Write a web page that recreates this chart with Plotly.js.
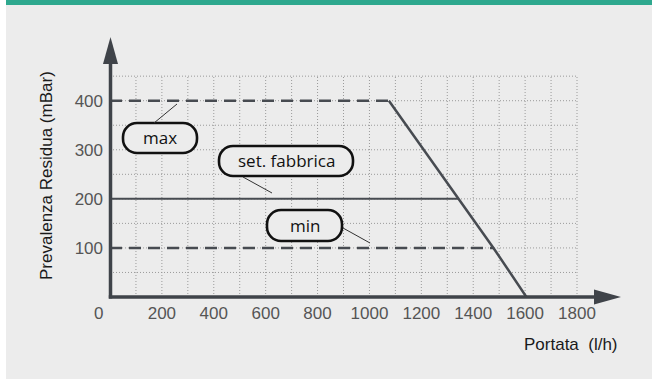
<!DOCTYPE html>
<html>
<head>
<meta charset="utf-8">
<script src="https://cdn.plot.ly/plotly-3.0.1.min.js"></script>
<style>html,body{margin:0;padding:0;background:#fff;}#chart{width:652px;height:379px;}</style>
</head>
<body>
<div id="chart"></div>
<script>
// ---- data ----
const flowMax = [0, 1075];
const presMax = [400, 400];
const flowSet = [0, 1345];
const presSet = [200, 200];
const flowMin = [0, 1478];
const presMin = [100, 100];
const flowCurve = [1075, 1345, 1478, 1605];
const presCurve = [400, 200, 100, 0];
const xTicks = [200, 400, 600, 800, 1000, 1200, 1400, 1600, 1800];
const yTicks = [100, 200, 300, 400];
const labelMax = "max";
const labelSet = "set. fabbrica";
const labelMin = "min";
const xTitle = "Portata  (l/h)";
const yTitle = "Prevalenza Residua (mBar)";

// ---- layout constants ----
const W = 652, H = 379, L = 110, R = 27, T = 35, B = 82;
const PW = W - L - R, PH = H - T - B;
const XMAX = 1985, YMAX = 533.9;
const PX = px => (px - L) / PW;
const PY = py => (T + PH - py) / PH;

const axisCol = '#3f4349';
const lineCol = '#474b51';
const gridCol = '#9a9a9a';

const shapes = [];
// background pieces
shapes.push({type:'rect', xref:'paper', yref:'paper', x0:-1, x1:PX(6), y0:-1, y1:2, fillcolor:'#ffffff', line:{width:0}, layer:'below'});
shapes.push({type:'rect', xref:'paper', yref:'paper', x0:PX(6), x1:2, y0:PY(5), y1:2, fillcolor:'#2ea88e', line:{width:0}, layer:'below'});
// grid
for (let gx = 100; gx <= 1800; gx += 100) {
  shapes.push({type:'line', xref:'x', yref:'y', x0:gx, x1:gx, y0:0, y1:450, line:{color:gridCol, width:1, dash:'1px,2px'}, layer:'below'});
}
for (let gy = 50; gy <= 450; gy += 50) {
  shapes.push({type:'line', xref:'x', yref:'y', x0:0, x1:1800, y0:gy, y1:gy, line:{color:gridCol, width:1, dash:'1px,2px'}, layer:'below'});
}
// axes with arrows
shapes.push({type:'line', xref:'paper', yref:'paper', x0:PX(110.5), x1:PX(110.5), y0:PY(298.5), y1:PY(62), line:{color:axisCol, width:3.5}, layer:'above'});
shapes.push({type:'line', xref:'paper', yref:'paper', x0:PX(108.8), x1:PX(597), y0:PY(297), y1:PY(297), line:{color:axisCol, width:3.5}, layer:'above'});
shapes.push({type:'path', xref:'paper', yref:'paper', path:`M${PX(110.5)},${PY(37)} L${PX(118)},${PY(64)} L${PX(103)},${PY(64)} Z`, fillcolor:axisCol, line:{width:0}, layer:'above'});
shapes.push({type:'path', xref:'paper', yref:'paper', path:`M${PX(621)},${PY(297)} L${PX(594)},${PY(289.5)} L${PX(594)},${PY(304.5)} Z`, fillcolor:axisCol, line:{width:0}, layer:'above'});

// rounded boxes
function rr(x0, y0, x1, y1, r) {
  const k = 0.5523 * r;
  const p = (a, b) => `${PX(a)},${PY(b)}`;
  return `M${p(x0 + r, y0)} L${p(x1 - r, y0)} C${p(x1 - r + k, y0)} ${p(x1, y0 + r - k)} ${p(x1, y0 + r)} ` +
    `L${p(x1, y1 - r)} C${p(x1, y1 - r + k)} ${p(x1 - r + k, y1)} ${p(x1 - r, y1)} ` +
    `L${p(x0 + r, y1)} C${p(x0 + r - k, y1)} ${p(x0, y1 - r + k)} ${p(x0, y1 - r)} ` +
    `L${p(x0, y0 + r)} C${p(x0, y0 + r - k)} ${p(x0 + r - k, y0)} ${p(x0 + r, y0)} Z`;
}
const boxes = [[123, 123, 197, 153], [219, 146, 353, 176], [267, 210, 342, 241]];
boxes.forEach(b => shapes.push({type:'path', xref:'paper', yref:'paper', path:rr(b[0], b[1], b[2], b[3], 14), fillcolor:'#ececec', line:{color:'#111', width:2.6}, layer:'above'}));
// leader lines
[[177, 104, 154, 123], [243, 177, 272, 193], [343, 228, 370, 243]].forEach(s =>
  shapes.push({type:'line', xref:'paper', yref:'paper', x0:PX(s[0]), y0:PY(s[1]), x1:PX(s[2]), y1:PY(s[3]), line:{color:'#333', width:1}, layer:'above'}));

const annFont = {family:'Open Sans, sans-serif', size:17, color:'#111'};
const arial = 'Liberation Sans, Arial, sans-serif';
const ann = (px, py, text, font, extra) => Object.assign({xref:'paper', yref:'paper', x:PX(px), y:PY(py), text:text, showarrow:false, xanchor:'center', yanchor:'middle', font:font}, extra || {});
const annotations = [
  ann(160, 137.5, labelMax, annFont),
  ann(286, 160.5, labelSet, annFont),
  ann(304.5, 225, labelMin, annFont),
  ann(98, 313, '0', {family:arial, size:17, color:'#555'}),
  ann(571, 344, xTitle, {family:arial, size:17, color:'#1a1a1a'}),
  ann(46, 176, yTitle, {family:arial, size:17, color:'#1a1a1a'}, {textangle:-90})
];

const dashLine = {color:lineCol, width:2.5, dash:'12px,7px'};
const traces = [
  {x:flowMax, y:presMax, mode:'lines', line:dashLine, hoverinfo:'skip'},
  {x:flowSet, y:presSet, mode:'lines', line:{color:lineCol, width:2}, hoverinfo:'skip'},
  {x:flowMin, y:presMin, mode:'lines', line:dashLine, hoverinfo:'skip'},
  {x:flowCurve, y:presCurve, mode:'lines', line:{color:lineCol, width:2.5}, hoverinfo:'skip'}
];

const tickFont = {family:arial, size:17, color:'#555'};
const layout = {
  width: W, height: H,
  margin: {l:L, r:R, t:T, b:B, pad:0},
  paper_bgcolor: '#ececec', plot_bgcolor: 'rgba(0,0,0,0)',
  showlegend: false,
  xaxis: {range:[0, XMAX], tickvals:xTicks, ticktext:xTicks.map(String), ticks:'', showgrid:false, zeroline:false, showline:false, tickfont:tickFont, ticklabelstandoff:4, fixedrange:true},
  yaxis: {range:[0, YMAX], tickvals:yTicks, ticktext:yTicks.map(String), ticks:'', showgrid:false, zeroline:false, showline:false, tickfont:tickFont, ticklabelstandoff:6, fixedrange:true},
  shapes: shapes,
  annotations: annotations
};
Plotly.newPlot('chart', traces, layout, {displayModeBar:false, staticPlot:true});
</script>
</body>
</html>
